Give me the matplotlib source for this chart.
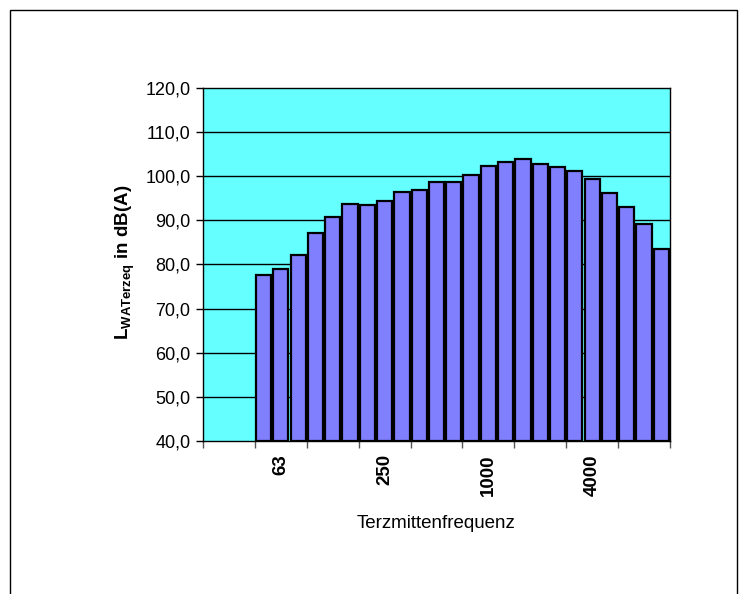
import matplotlib
matplotlib.use("Agg")
import matplotlib.pyplot as plt
import matplotlib.transforms as mtransforms
from matplotlib.patches import Rectangle

plt.rcParams['font.family'] = ['Liberation Sans', 'DejaVu Sans']
plt.rcParams['mathtext.fontset'] = 'custom'
plt.rcParams['mathtext.rm'] = 'Liberation Sans'
plt.rcParams['mathtext.bf'] = 'Liberation Sans:bold'
plt.rcParams['mathtext.it'] = 'Liberation Sans:italic'

frequencies = ["25", "31,5", "40", "50", "63", "80", "100", "125", "160", "200", "250",
               "315", "400", "500", "630", "800", "1000", "1250", "1600", "2000", "2500",
               "3150", "4000", "5000", "6300", "8000", "10000"]
levels = [None, None, None,
          77.6, 78.9, 82.2, 87.2, 90.8, 93.7, 93.4, 94.5, 96.4, 96.95, 98.6, 98.6,
          100.3, 102.4, 103.2, 103.9, 102.85, 102.0, 101.2, 99.3, 96.3, 93.1, 89.1, 83.4]
shown_labels = ["63", "250", "1000", "4000"]
y_ticks = [40, 50, 60, 70, 80, 90, 100, 110, 120]

fig = plt.figure(figsize=(7.47, 5.94), dpi=100)
# outer chart border
fig.patches.append(Rectangle((10/747, -0.1), 727/747, 1.1 - 10/594, transform=fig.transFigure,
                             fill=False, edgecolor='black', linewidth=1.0))

ax = fig.add_axes([203/747, 1 - 441/594, 467/747, 353/594])
ax.set_facecolor('#66FFFF')

xs = [i for i, v in enumerate(levels) if v is not None]
vals = [v for v in levels if v is not None]
ax.bar(xs, [v - 40 for v in vals], bottom=40, width=0.88, color='#8080FF',
       edgecolor='black', linewidth=1.6, zorder=3)

ax.set_xlim(-0.5, len(frequencies) - 0.5)
ax.set_ylim(40, 120)
ax.set_yticks(y_ticks)
ax.set_yticklabels([f"{t:.1f}".replace('.', ',') for t in y_ticks], fontsize=13)
for t in y_ticks[1:-1]:
    ax.axhline(t, color='black', linewidth=1.0, zorder=1)

# ticks at every third category boundary
boundaries = [b - 0.5 for b in range(0, len(frequencies) + 1, 3)]
ax.set_xticks(boundaries)
ax.set_xticklabels([])
ax.tick_params(axis='x', length=5, width=1, color='#555555', direction='out')
ax.tick_params(axis='y', length=5, width=1, direction='out', pad=4)

offset = ax.transData + mtransforms.ScaledTranslation(0, -13/100, fig.dpi_scale_trans)
for lab in shown_labels:
    i = frequencies.index(lab)
    ax.text(i, 40, lab, transform=offset, rotation=90, fontsize=13.5,
            fontweight='bold', ha='center', va='top')

for s in ax.spines.values():
    s.set_color('black')
    s.set_linewidth(1.0)

fig.text(436/747, 1 - 523/594, "Terzmittenfrequenz", ha='center', va='center', fontsize=13.5)
fig.text(125/747, 1 - 262/594, r"$\mathbf{L_{WATerzeq}\ in\ dB(A)}$",
         rotation=90, ha='center', va='center', fontsize=13.5)

fig.savefig("out.png", dpi=100)
